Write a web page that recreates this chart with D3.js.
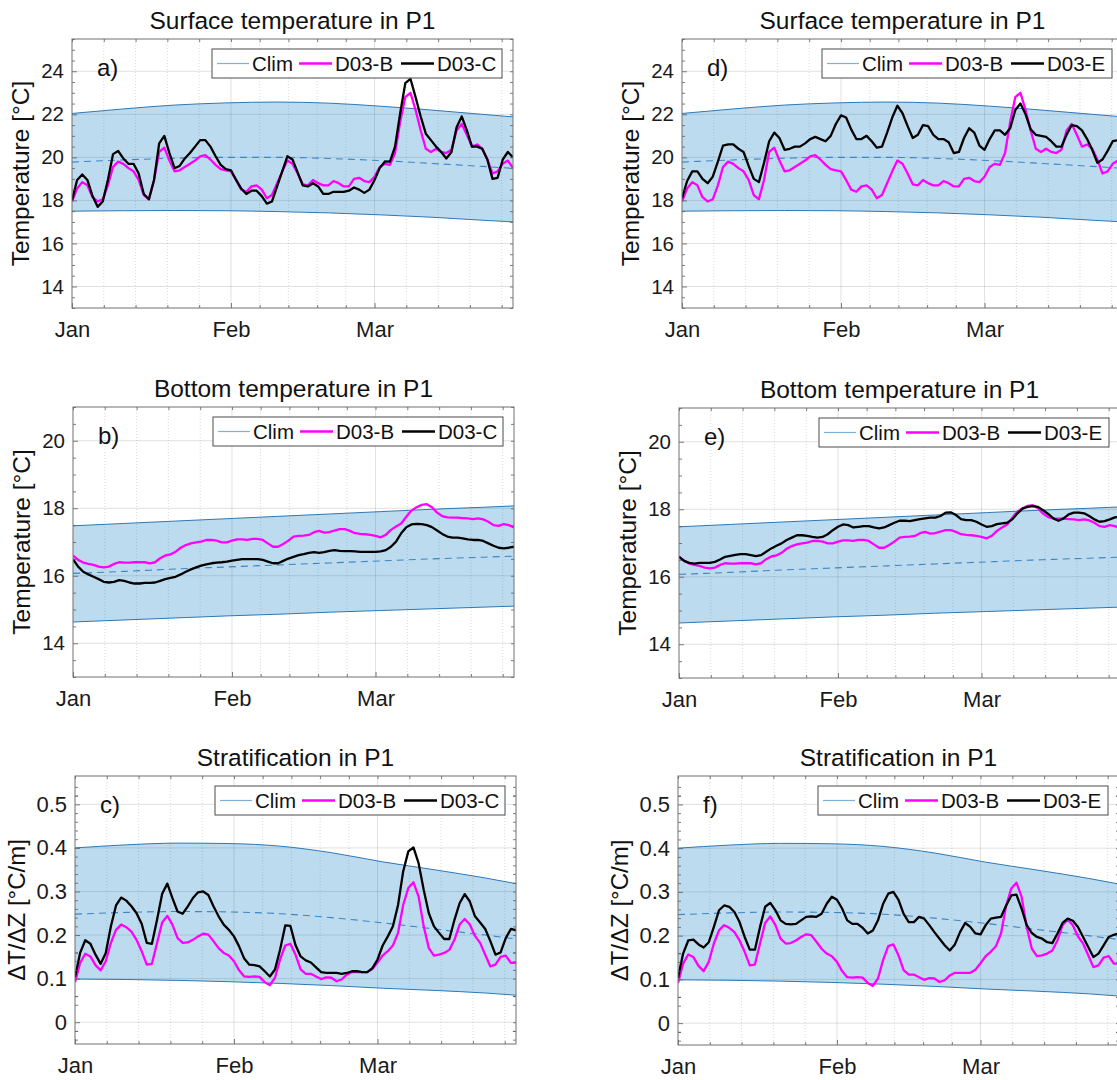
<!DOCTYPE html>
<html><head><meta charset="utf-8">
<script src="https://cdn.jsdelivr.net/npm/d3@7"></script>
<style>
body{margin:0;background:#fff;overflow:hidden}
svg{display:block}
text{font-family:"Liberation Sans",Arial,Helvetica,sans-serif}
</style>
</head><body>
<svg id="chart" width="1117" height="1080"></svg>
<script>
// ---------------- DATA ----------------
// daily values, day index 0 = Jan 1
const surfB = [17.95,18.55,18.85,18.7,18.15,17.95,18.05,18.7,19.55,19.8,
 19.7,19.5,19.35,18.95,18.25,18.05,18.95,20.25,20.45,19.85,
 19.35,19.4,19.55,19.7,19.85,20.05,20.1,19.9,19.65,19.45,
 19.4,19.35,18.95,18.5,18.4,18.65,18.7,18.5,18.1,18.25,
 18.8,19.35,19.85,19.7,19.25,18.75,18.7,18.95,18.8,18.7,
 18.7,18.9,18.8,18.65,18.65,19.0,19.05,18.9,18.85,19.1,
 19.55,19.7,19.65,20.2,21.65,22.8,23.0,22.2,21.25,20.4,
 20.25,20.4,20.25,20.2,20.35,21.25,21.55,21.05,20.5,20.6,
 20.4,19.9,19.25,19.35,19.7,19.85,19.5];
const surfC = [18.0,18.95,19.2,18.95,18.2,17.7,17.95,18.95,20.15,20.3,
 19.95,19.7,19.7,19.25,18.3,18.05,18.95,20.65,21.0,20.2,
 19.5,19.6,19.95,20.2,20.5,20.8,20.8,20.5,20.05,19.65,
 19.45,19.4,18.95,18.55,18.3,18.45,18.45,18.2,17.85,17.95,
 18.65,19.35,20.05,19.9,19.3,18.7,18.65,18.8,18.65,18.3,
 18.3,18.4,18.4,18.4,18.45,18.6,18.5,18.35,18.5,18.95,
 19.5,19.8,19.8,20.5,22.05,23.45,23.65,22.8,21.9,21.1,
 20.8,20.5,20.25,19.95,20.25,21.4,21.9,21.25,20.5,20.5,
 20.4,19.9,19.0,19.05,19.9,20.25,20.0];
const surfE = [18.1,18.9,19.35,19.35,19.0,18.8,19.1,19.8,20.55,20.6,
 20.6,20.4,20.25,19.6,19.0,18.85,19.75,20.75,21.15,20.9,
 20.35,20.4,20.5,20.5,20.65,20.85,20.95,20.85,20.75,21.0,
 21.55,21.95,21.85,21.3,20.85,20.85,21.0,20.75,20.45,20.5,
 21.15,21.85,22.4,22.05,21.45,20.9,21.05,21.5,21.45,21.05,
 20.85,20.85,20.7,20.2,20.25,20.9,21.35,21.15,20.55,20.35,
 20.85,21.25,21.25,21.05,21.35,22.2,22.5,22.0,21.3,21.05,
 21.0,20.95,20.75,20.5,20.5,21.05,21.5,21.45,21.25,20.85,
 20.35,19.75,19.9,20.3,20.75,20.8,20.85];

const botB = [16.6,16.47,16.39,16.35,16.32,16.27,16.25,16.27,16.35,16.4,
 16.39,16.39,16.4,16.4,16.4,16.37,16.4,16.52,16.6,16.63,
 16.71,16.83,16.91,16.96,16.99,17.01,17.06,17.06,17.04,16.99,
 16.99,17.04,17.08,17.08,17.06,17.09,17.09,17.06,16.96,16.86,
 16.86,16.94,17.04,17.16,17.18,17.19,17.21,17.29,17.33,17.28,
 17.29,17.34,17.38,17.38,17.33,17.26,17.24,17.23,17.21,17.18,
 17.14,17.21,17.36,17.46,17.55,17.75,17.93,18.03,18.1,18.12,
 18.03,17.87,17.77,17.73,17.72,17.72,17.71,17.7,17.68,17.7,
 17.67,17.6,17.5,17.48,17.53,17.5,17.43];
const botC = [16.49,16.27,16.12,16.04,15.97,15.9,15.82,15.8,15.82,15.87,
 15.85,15.8,15.77,15.77,15.79,15.79,15.8,15.85,15.9,15.94,
 15.97,16.04,16.12,16.19,16.25,16.3,16.34,16.37,16.39,16.4,
 16.42,16.45,16.47,16.49,16.49,16.49,16.49,16.47,16.42,16.37,
 16.37,16.44,16.51,16.56,16.61,16.64,16.68,16.7,16.68,16.7,
 16.74,16.76,16.74,16.73,16.73,16.72,16.71,16.71,16.71,16.71,
 16.72,16.76,16.86,17.01,17.26,17.44,17.52,17.54,17.53,17.5,
 17.44,17.34,17.24,17.16,17.13,17.13,17.11,17.08,17.06,17.06,
 17.03,16.96,16.89,16.83,16.81,16.83,16.86];
const botE = [16.59,16.47,16.41,16.39,16.41,16.41,16.41,16.44,16.51,16.59,
 16.62,16.65,16.67,16.67,16.64,16.61,16.64,16.74,16.84,16.92,
 16.99,17.09,17.16,17.23,17.23,17.21,17.18,17.16,17.18,17.26,
 17.38,17.48,17.55,17.53,17.46,17.48,17.5,17.5,17.46,17.43,
 17.46,17.53,17.6,17.66,17.66,17.65,17.68,17.71,17.73,17.75,
 17.75,17.8,17.9,17.91,17.83,17.71,17.68,17.68,17.63,17.55,
 17.48,17.5,17.56,17.58,17.6,17.7,17.88,18.02,18.07,18.09,
 18.07,17.97,17.86,17.73,17.66,17.73,17.85,17.9,17.9,17.88,
 17.8,17.7,17.63,17.65,17.7,17.76,17.78];

const stratB = [0.092,0.136,0.157,0.151,0.131,0.119,0.140,0.182,0.212,0.224,
 0.218,0.208,0.189,0.163,0.132,0.134,0.182,0.229,0.244,0.224,
 0.193,0.182,0.183,0.189,0.197,0.203,0.201,0.186,0.170,0.159,
 0.153,0.140,0.119,0.105,0.104,0.105,0.104,0.092,0.085,0.102,
 0.144,0.176,0.180,0.155,0.121,0.111,0.111,0.105,0.099,0.103,
 0.102,0.094,0.098,0.109,0.115,0.115,0.115,0.115,0.122,0.137,
 0.153,0.163,0.176,0.205,0.269,0.308,0.321,0.289,0.220,0.170,
 0.153,0.155,0.159,0.166,0.189,0.224,0.237,0.224,0.198,0.182,
 0.155,0.128,0.132,0.150,0.153,0.136,0.136];
const stratC = [0.104,0.159,0.188,0.180,0.155,0.134,0.159,0.220,0.268,0.286,
 0.279,0.266,0.250,0.226,0.182,0.180,0.235,0.295,0.318,0.285,
 0.254,0.249,0.266,0.285,0.298,0.300,0.292,0.266,0.243,0.224,
 0.212,0.197,0.174,0.146,0.132,0.131,0.128,0.117,0.105,0.121,
 0.167,0.222,0.221,0.177,0.151,0.142,0.137,0.126,0.115,0.113,
 0.113,0.113,0.111,0.113,0.117,0.117,0.115,0.115,0.124,0.144,
 0.176,0.197,0.220,0.269,0.346,0.392,0.401,0.365,0.304,0.250,
 0.220,0.205,0.191,0.191,0.235,0.273,0.294,0.277,0.243,0.229,
 0.214,0.186,0.155,0.160,0.193,0.214,0.211];
const stratE = [0.104,0.159,0.189,0.191,0.180,0.173,0.185,0.220,0.258,0.269,
 0.266,0.254,0.231,0.197,0.168,0.168,0.220,0.266,0.275,0.258,
 0.235,0.227,0.226,0.227,0.235,0.243,0.244,0.243,0.250,0.273,
 0.289,0.282,0.262,0.235,0.227,0.227,0.218,0.205,0.212,0.235,
 0.273,0.296,0.300,0.282,0.250,0.231,0.231,0.243,0.239,0.224,
 0.208,0.193,0.178,0.166,0.180,0.208,0.229,0.220,0.205,0.203,
 0.224,0.239,0.241,0.243,0.269,0.292,0.294,0.262,0.224,0.206,
 0.197,0.193,0.185,0.183,0.205,0.229,0.239,0.234,0.220,0.197,
 0.174,0.151,0.159,0.178,0.197,0.202,0.205];

// climatology, read at these day indices
const climDays = [0,10,20,30,40,50,60,70,80,86];
const climSurfUpper = [22.04,22.25,22.43,22.53,22.57,22.52,22.38,22.2,22.0,21.88];
const climSurfMean  = [19.78,19.88,19.96,20.0,20.0,19.95,19.85,19.72,19.58,19.49];
const climSurfLower = [17.5,17.52,17.53,17.52,17.48,17.42,17.33,17.22,17.08,17.0];
const climBotUpper  = [17.48,17.55,17.62,17.69,17.76,17.83,17.9,17.97,18.03,18.07];
const climBotMean   = [16.07,16.13,16.2,16.26,16.32,16.38,16.44,16.5,16.55,16.58];
const climBotLower  = [14.63,14.69,14.75,14.81,14.86,14.92,14.97,15.02,15.07,15.1];
const climStratUpper= [0.400,0.407,0.411,0.410,0.404,0.389,0.368,0.350,0.331,0.318];
const climStratMean = [0.248,0.252,0.254,0.253,0.249,0.240,0.228,0.214,0.200,0.191];
const climStratLower= [0.099,0.098,0.096,0.093,0.089,0.084,0.078,0.073,0.067,0.062];

const monthLabels = ["Jan","Feb","Mar"];
const tempTicksSurf = [14,16,18,20,22,24];
const tempTicksBot = [14,16,18,20];
const stratTicks = [0,0.1,0.2,0.3,0.4,0.5];
const titles = ["Surface temperature in P1","Bottom temperature in P1","Stratification in P1"];
const panelLetters = ["a)","b)","c)","d)","e)","f)"];
const legendLeft = ["Clim","D03-B","D03-C"];
const legendRight = ["Clim","D03-B","D03-E"];
const yLabelTemp = "Temperature [°C]";
const yLabelStrat = "\u0394T/\u0394Z [°C/m]";

// ---------------- SETUP ----------------
const svg = d3.select("#chart");
const t0 = new Date(2019,0,1);
const dayDate = d => d3.timeDay.offset(t0, d);
const xEnd = dayDate(86);
const W = 441;
const BAND = "#0072bd";

const monthStarts = [0,1,2].map(m => new Date(2019,m,1));
const minorDates = [];
monthStarts.forEach(ms => {
  const next = d3.timeMonth.offset(ms,1);
  const len = (next - ms);
  for (let k=1;k<5;k++) minorDates.push(new Date(+ms + len*k/5));
});

const panels = [
 {left:72, top:39, bottom:308, dom:[13,25.5], ticks:tempTicksSurf, minorStep:0.5, title:titles[0], letter:panelLetters[0], leg:legendLeft,
  b:surfB, c:surfC, up:climSurfUpper, mean:climSurfMean, lo:climSurfLower, ylab:yLabelTemp, fmt:d3.format("d"), tfs:20.5},
 {left:73, top:407, bottom:677, dom:[13,21], ticks:tempTicksBot, minorStep:0.5, title:titles[1], letter:panelLetters[1], leg:legendLeft,
  b:botB, c:botC, up:climBotUpper, mean:climBotMean, lo:climBotLower, ylab:yLabelTemp, fmt:d3.format("d"), tfs:20.5},
 {left:75, top:776, bottom:1044, dom:[-0.05,0.565], ticks:stratTicks, minorStep:0.02, title:titles[2], letter:panelLetters[2], leg:legendLeft,
  b:stratB, c:stratC, up:climStratUpper, mean:climStratMean, lo:climStratLower, ylab:yLabelStrat, fmt:d => d===0?"0":d3.format(".1f")(d), tfs:22},
 {left:682, top:39, bottom:308, dom:[13,25.5], ticks:tempTicksSurf, minorStep:0.5, title:titles[0], letter:panelLetters[3], leg:legendRight,
  b:surfB, c:surfE, up:climSurfUpper, mean:climSurfMean, lo:climSurfLower, ylab:yLabelTemp, fmt:d3.format("d"), tfs:20.5},
 {left:679, top:408, bottom:678, dom:[13,21], ticks:tempTicksBot, minorStep:0.5, title:titles[1], letter:panelLetters[4], leg:legendRight,
  b:botB, c:botE, up:climBotUpper, mean:climBotMean, lo:climBotLower, ylab:yLabelTemp, fmt:d3.format("d"), tfs:20.5},
 {left:678, top:776, bottom:1045, dom:[-0.05,0.565], ticks:stratTicks, minorStep:0.02, title:titles[2], letter:panelLetters[5], leg:legendRight,
  b:stratB, c:stratE, up:climStratUpper, mean:climStratMean, lo:climStratLower, ylab:yLabelStrat, fmt:d => d===0?"0":d3.format(".1f")(d), tfs:22}
];

panels.forEach((p,i) => {
  const x = d3.scaleTime().domain([t0,xEnd]).range([p.left, p.left+W]);
  const y = d3.scaleLinear().domain(p.dom).range([p.bottom, p.top]);
  const g = svg.append("g");
  const clipId = "clip"+i;
  svg.append("clipPath").attr("id",clipId).append("rect")
    .attr("x",p.left).attr("y",p.top).attr("width",W).attr("height",p.bottom-p.top);

  // grid
  const grid = g.append("g");
  grid.selectAll(".mg").data(minorDates).join("line")
    .attr("x1",d=>x(d)).attr("x2",d=>x(d)).attr("y1",p.top).attr("y2",p.bottom)
    .attr("stroke","rgba(40,40,40,0.22)").attr("stroke-width",0.8).attr("stroke-dasharray","1,2");
  grid.selectAll(".gx").data(monthStarts.slice(1)).join("line")
    .attr("x1",d=>x(d)).attr("x2",d=>x(d)).attr("y1",p.top).attr("y2",p.bottom)
    .attr("stroke","rgba(40,40,40,0.14)").attr("stroke-width",1);
  grid.selectAll(".gy").data(p.ticks).join("line")
    .attr("x1",p.left).attr("x2",p.left+W).attr("y1",d=>y(d)).attr("y2",d=>y(d))
    .attr("stroke","rgba(40,40,40,0.14)").attr("stroke-width",1);

  // data layer
  const dl = g.append("g").attr("clip-path",`url(#${clipId})`);
  const climRows = climDays.map((d,k) => ({d, up:p.up[k], lo:p.lo[k], m:p.mean[k]}));
  const curve = d3.curveMonotoneX;
  dl.append("path").datum(climRows)
    .attr("d", d3.area().x(r=>x(dayDate(r.d))).y0(r=>y(r.lo)).y1(r=>y(r.up)).curve(curve))
    .attr("fill",BAND).attr("fill-opacity",0.26);
  ["up","lo"].forEach(k => {
    dl.append("path").datum(climRows)
      .attr("d", d3.line().x(r=>x(dayDate(r.d))).y(r=>y(r[k])).curve(curve))
      .attr("fill","none").attr("stroke","#2c78b8").attr("stroke-width",1);
  });
  dl.append("path").datum(climRows)
    .attr("d", d3.line().x(r=>x(dayDate(r.d))).y(r=>y(r.m)).curve(curve))
    .attr("fill","none").attr("stroke","#3d86c4").attr("stroke-width",1.1).attr("stroke-dasharray","7,5");
  const ln = d3.line().x((v,k)=>x(dayDate(k))).y(v=>y(v));
  dl.append("path").datum(p.b).attr("d",ln).attr("fill","none")
    .attr("stroke","#ff00ff").attr("stroke-width",2.3).attr("stroke-linejoin","round");
  dl.append("path").datum(p.c).attr("d",ln).attr("fill","none")
    .attr("stroke","#000").attr("stroke-width",2.3).attr("stroke-linejoin","round");

  // minor y ticks
  const minorY = d3.range(p.dom[0], p.dom[1]+1e-9, p.minorStep)
     .map(v => Math.round(v/p.minorStep)*p.minorStep)
     .filter(v => v>=p.dom[0] && v<=p.dom[1] && !p.ticks.some(t=>Math.abs(t-v)<1e-9));
  const axc = "#5a5a5a";
  // axes
  const axB = g.append("g").attr("transform",`translate(0,${p.bottom})`)
    .call(d3.axisBottom(x).tickValues(monthStarts).tickFormat((d,k)=>monthLabels[k]).tickSize(-5).tickPadding(13));
  const axBm = g.append("g").attr("transform",`translate(0,${p.bottom})`)
    .call(d3.axisBottom(x).tickValues(minorDates).tickFormat("").tickSize(-3));
  const axT = g.append("g").attr("transform",`translate(0,${p.top})`)
    .call(d3.axisTop(x).tickValues(monthStarts.concat(minorDates)).tickFormat("").tickSize(-3));
  const axL = g.append("g").attr("transform",`translate(${p.left},0)`)
    .call(d3.axisLeft(y).tickValues(p.ticks).tickFormat(p.fmt).tickSize(-5).tickPadding(8));
  const axLm = g.append("g").attr("transform",`translate(${p.left},0)`)
    .call(d3.axisLeft(y).tickValues(minorY).tickFormat("").tickSize(-3));
  const axR = g.append("g").attr("transform",`translate(${p.left+W},0)`)
    .call(d3.axisRight(y).tickValues(p.ticks.concat(minorY)).tickFormat("").tickSize(-3));
  [axB,axBm,axT,axL,axLm,axR].forEach(a => {
    a.select(".domain").remove();
    a.selectAll("line").attr("stroke",axc).attr("stroke-width",0.8);
    a.selectAll("text").attr("fill","#1a1a1a").style("font-family",'"Liberation Sans",Arial,sans-serif');
  });
  axB.selectAll("text").style("font-size","22px");
  axL.selectAll("text").style("font-size",p.tfs+"px");

  // box
  g.append("rect").attr("x",p.left).attr("y",p.top).attr("width",W).attr("height",p.bottom-p.top)
    .attr("fill","none").attr("stroke","#707070").attr("stroke-width",1);

  // title
  g.append("text").attr("x",p.left+W/2).attr("y",p.top-10).attr("text-anchor","middle")
    .style("font-size","24.5px").attr("fill","#111").text(p.title);
  // y label
  const ylx = p.ylab===yLabelTemp ? p.left-43 : p.left-50;
  g.append("text").attr("transform",`translate(${ylx},${(p.top+p.bottom)/2}) rotate(-90)`)
    .attr("text-anchor","middle").style("font-size", p.ylab===yLabelTemp ? "24.5px" : "24px").attr("fill","#111").text(p.ylab);
  // panel letter
  g.append("text").attr("x",p.left+25).attr("y",p.top+37)
    .style("font-size","24px").attr("fill","#111").text(p.letter);

  // legend
  const lx = p.left+140, ly = p.top+10;
  const lg = g.append("g").attr("transform",`translate(${lx},${ly})`);
  lg.append("rect").attr("width",290).attr("height",29).attr("fill","#fff")
    .attr("stroke","#4d4d4d").attr("stroke-width",1);
  const items = [
    {x1:5,x2:37,tx:40,color:"#7fb1d9",w:1.2},
    {x1:87,x2:120,tx:123,color:"#ff00ff",w:2.3},
    {x1:189,x2:222,tx:225,color:"#000",w:2.3}
  ];
  items.forEach((it,k) => {
    lg.append("line").attr("x1",it.x1).attr("x2",it.x2).attr("y1",14.5).attr("y2",14.5)
      .attr("stroke",it.color).attr("stroke-width",it.w);
    lg.append("text").attr("x",it.tx).attr("y",22).style("font-size","20.5px").attr("fill","#111").text(p.leg[k]);
  });
});
</script>
</body></html>
